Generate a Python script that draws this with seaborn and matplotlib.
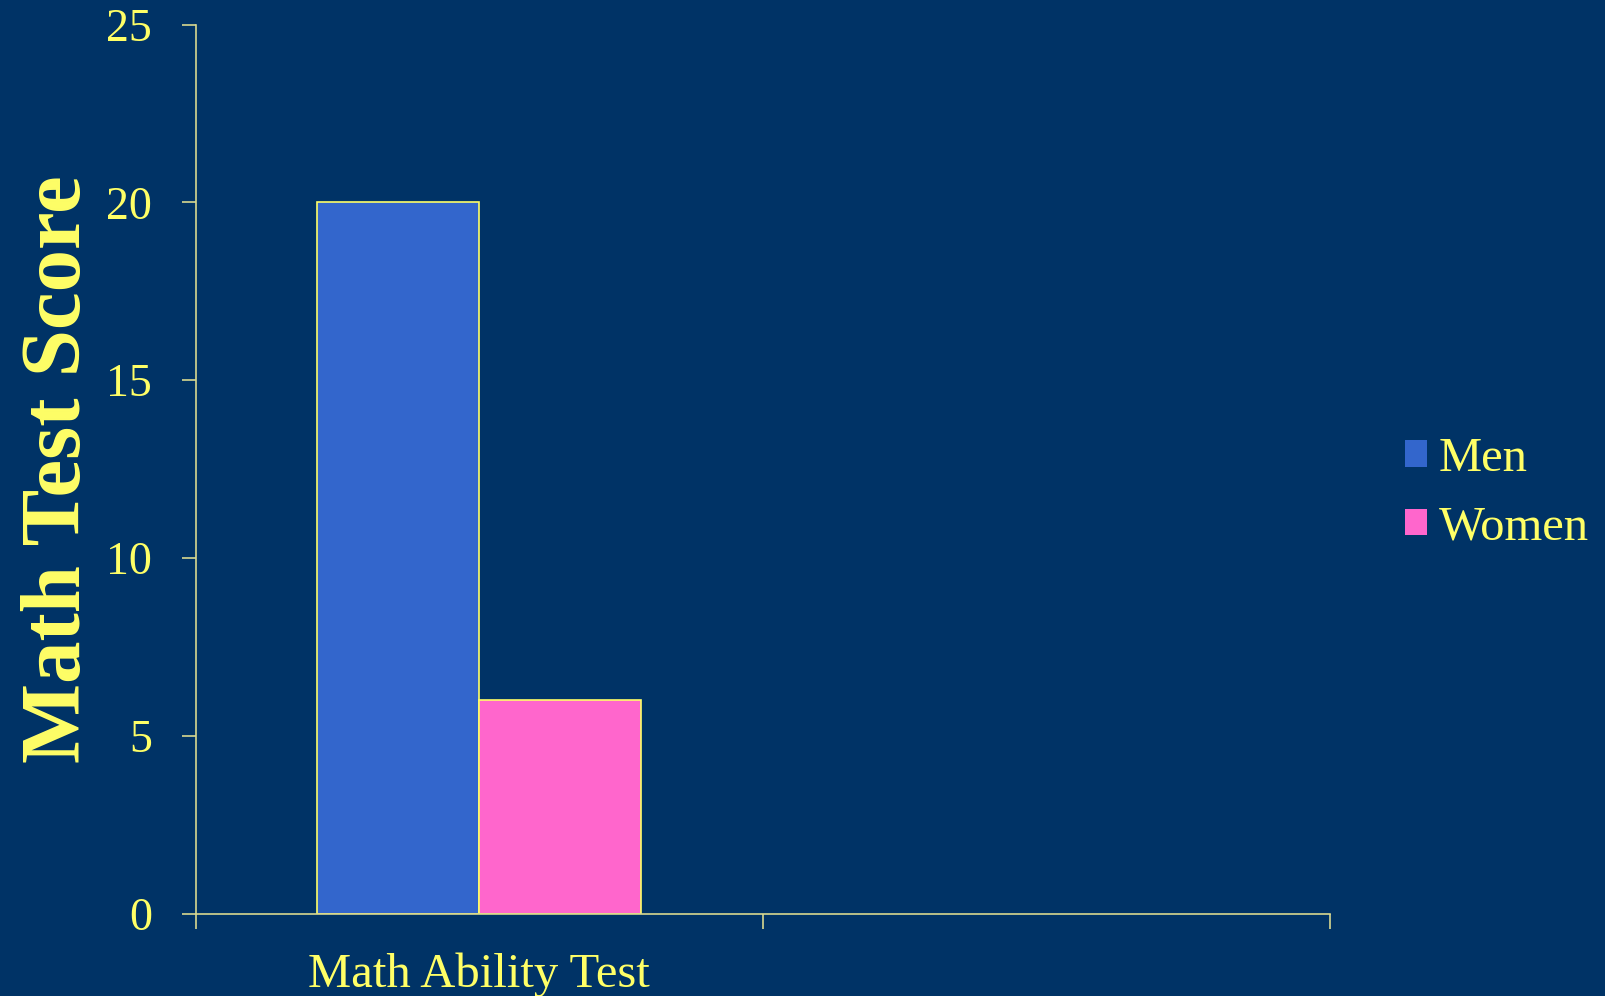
import matplotlib
matplotlib.use("Agg")
import matplotlib.pyplot as plt
import seaborn as sns
import pandas as pd

# Data
categories = ["Math Ability Test", " "]
groups = ["Men", "Women"]
men_scores = [20, None]
women_scores = [6, None]

BG = "#003366"
TEXT = "#FFFF66"
AXIS = "#D8D890"
palette = {"Men": "#3366CC", "Women": "#FF66CC"}

df = pd.DataFrame({
    "Test": categories * 2,
    "Group": ["Men"] * len(categories) + ["Women"] * len(categories),
    "Score": men_scores + women_scores,
})

sns.set_theme(style="white")
plt.rcParams["font.family"] = ["Liberation Serif", "DejaVu Serif"]

fig = plt.figure(figsize=(16.06, 9.96), dpi=100, facecolor=BG)
ax = fig.add_axes([0.1218, 0.0827, 0.7063, 0.8926])
ax.set_facecolor(BG)

sns.barplot(data=df, x="Test", y="Score", hue="Group", order=categories,
            hue_order=groups, palette=palette, width=0.572, dodge=True,
            edgecolor=TEXT, linewidth=1.2, saturation=1, ax=ax, legend=True)

ax.set_xlim(-0.5, len(categories) - 0.5)
ax.set_ylim(0, 25)
ax.set_yticks([0, 5, 10, 15, 20, 25])

# Ticks between categories, labels centred under each category
ax.set_xticks([i - 0.5 for i in range(len(categories) + 1)])
ax.set_xticklabels([])
ax.set_xticks(range(len(categories)), minor=True)
ax.set_xticklabels(categories, minor=True)
ax.tick_params(axis="x", which="major", bottom=True, length=11, width=1.2,
               color=AXIS, direction="out")
ax.tick_params(axis="x", which="minor", bottom=False, length=0, pad=28,
               labelsize=35, labelcolor=TEXT)
ax.tick_params(axis="y", left=True, length=10, width=1.2, color=AXIS,
               direction="out", pad=21.5, labelsize=33, labelcolor=TEXT)

for side in ["top", "right"]:
    ax.spines[side].set_visible(False)
for side in ["left", "bottom"]:
    ax.spines[side].set_color(AXIS)
    ax.spines[side].set_linewidth(1.2)

ax.set_xlabel("")
ax.set_ylabel("Math Test Score", fontsize=61, fontweight="bold", color=TEXT, labelpad=6)

handles, labels = ax.get_legend_handles_labels()
ax.get_legend().remove()
leg = fig.legend(handles, labels, loc="center left", bbox_to_anchor=(0.8748, 0.505),
                 frameon=False, fontsize=35, labelcolor=TEXT, handlelength=0.45,
                 handleheight=0.45, handletextpad=0.25, labelspacing=0.5,
                 borderpad=0, borderaxespad=0)
for patch in leg.get_patches():
    patch.set_edgecolor("none")

fig.savefig("out.png", dpi=100, facecolor=BG)
